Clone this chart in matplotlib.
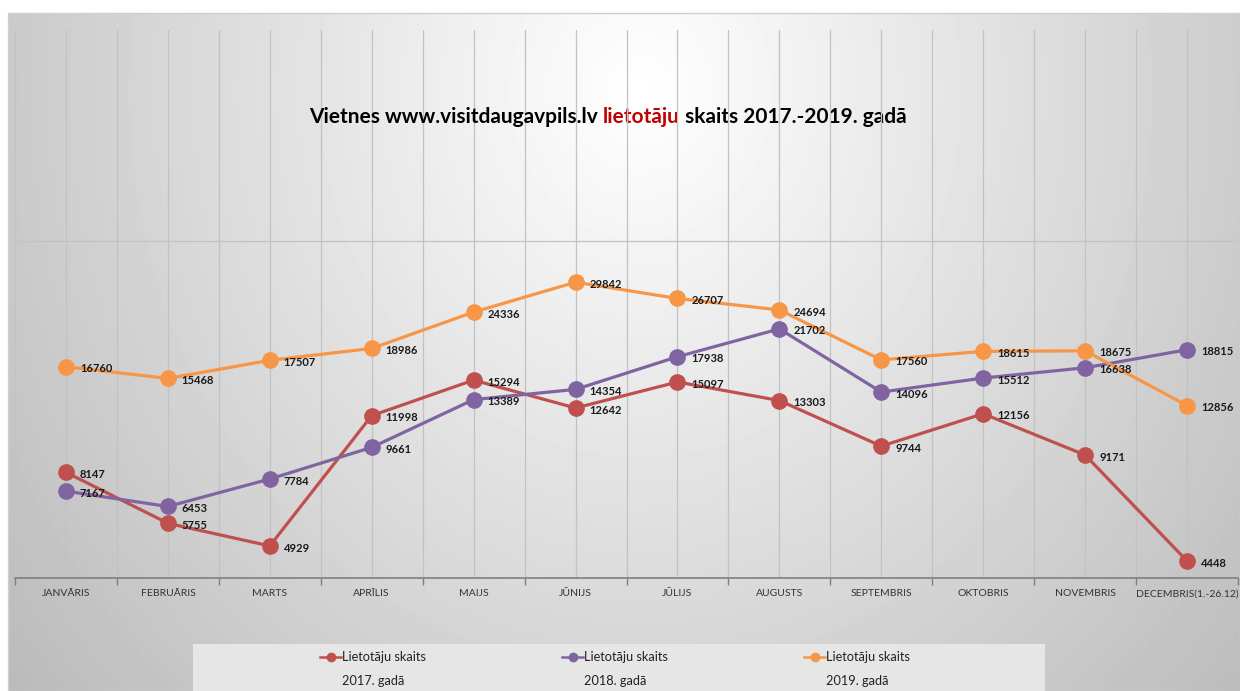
import matplotlib
matplotlib.use('Agg')
import matplotlib.pyplot as plt
import numpy as np
from matplotlib.patches import Rectangle
from matplotlib.ticker import FixedLocator, NullLocator

# dati
menesi = ['JANVĀRIS', 'FEBRUĀRIS', 'MARTS', 'APRĪLIS', 'MAIJS', 'JŪNIJS',
          'JŪLIJS', 'AUGUSTS', 'SEPTEMBRIS', 'OKTOBRIS', 'NOVEMBRIS',
          'DECEMBRIS(1.-26.12)']
skaits_2017 = [8147, 5755, 4929, 11998, 15294, 12642, 15097, 13303, 9744, 12156, 9171, 4448]
skaits_2018 = [7167, 6453, 7784, 9661, 13389, 14354, 17938, 21702, 14096, 15512, 16638, 18815]
skaits_2019 = [16760, 15468, 17507, 18986, 24336, 29842, 26707, 24694, 17560, 18615, 18675, 12856]
gadi = ['2017', '2018', '2019']
krasas = ['#c0504d', '#8064a2', '#f79646']
serijas = [skaits_2017, skaits_2018, skaits_2019]

plt.rcParams['font.family'] = ['Lato', 'DejaVu Sans']

W, H = 1240, 691
fig = plt.figure(figsize=(W / 100, H / 100), dpi=100)

# fons ar gradientu
bg = fig.add_axes([0, 0, 1, 1])
bg.set_axis_off()
bg.set_xlim(0, W)
bg.set_ylim(H, 0)
yy, xx = np.mgrid[0:H, 0:W]
r = np.sqrt(((xx - 640) / 700.0) ** 2 + ((yy - 90) / 800.0) ** 2)
img = np.clip(1 - 0.23 * r, 0, 1)
img[:13, :] = 1
img[:, :8] = 1
bg.imshow(img, extent=(0, W, H, 0), cmap='gray', vmin=0, vmax=1, aspect='auto', zorder=0)
bg.add_patch(Rectangle((8, 13), W - 8, H - 13, fill=False, edgecolor='#cfcfcf', lw=1, zorder=1))

# leģenda
bg.add_patch(Rectangle((193, 644), 852, 50, facecolor='#e6e6e6', edgecolor='none', zorder=1))
for i, (g, c) in enumerate(zip(gadi, krasas)):
    x0 = 320 + i * 242
    bg.plot([x0, x0 + 21], [657, 657], color=c, lw=1.8, zorder=2)
    bg.plot([x0 + 10.5], [657], marker='o', color=c, markersize=6, zorder=3)
    bg.text(x0 + 22, 657, 'Lietotāju skaits', fontsize=9.2, ha='left', va='center',
            color='#222222', zorder=3)
    bg.text(x0 + 22, 681, g + '. gadā', fontsize=9.2, ha='left', va='center',
            color='#222222', zorder=3)

# galvenais grafiks
ax = fig.add_axes([15 / W, 113 / H, 1223 / W, 548 / H])
ax.set_facecolor('none')
x = np.arange(len(menesi))
for vals, c in zip(serijas, krasas):
    ax.plot(x, vals, color=c, lw=2.3, marker='o', markersize=11, zorder=3)
    for xi, v in zip(x, vals):
        ax.annotate(str(v), (xi, v), xytext=(10, -1.5), textcoords='offset points',
                    ha='left', va='center', fontsize=8, fontweight='bold',
                    color='#1a1a1a', zorder=4)

ax.set_yscale('log')
ax.set_ylim(3960, 167000)
ax.yaxis.set_major_locator(FixedLocator([39600]))
ax.yaxis.set_minor_locator(NullLocator())
ax.tick_params(axis='y', which='both', length=0, labelleft=False)
ax.set_xlim(-0.5, len(menesi) - 0.5)
ax.set_xticks(x)
ax.set_xticklabels(menesi)
ax.set_xticks(np.arange(-0.5, len(menesi), 1), minor=True)
ax.tick_params(axis='x', which='major', length=0, pad=8, labelsize=7.5, labelcolor='#333333')
ax.tick_params(axis='x', which='minor', length=5, width=1, color='#7f7f7f', direction='out')
ax.grid(axis='x', which='both', color='#c2c2c2', lw=0.9)
ax.grid(axis='y', which='major', color='#c2c2c2', lw=0.9)
ax.set_axisbelow(True)
for s in ['top', 'left', 'right']:
    ax.spines[s].set_visible(False)
ax.spines['bottom'].set_color('#7f7f7f')
ax.spines['bottom'].set_linewidth(1.2)

# virsraksts ar sarkano vārdu
t1 = fig.text(0.25, 1 - 127 / H, 'Vietnes www.visitdaugavpils.lv ', fontsize=15,
              fontweight='bold', color='black', ha='left', va='bottom')
t2 = bg.annotate('lietotāju', xy=(1, 0), xycoords=t1, fontsize=15, fontweight='bold',
                 color='#c00000', ha='left', va='bottom')
t3 = bg.annotate(' skaits 2017.-2019. gadā', xy=(1, 0), xycoords=t2, fontsize=15,
                 fontweight='bold', color='black', ha='left', va='bottom')
fig.canvas.draw()
rend = fig.canvas.get_renderer()
left = t1.get_window_extent(rend).x0
right = t3.get_window_extent(rend).x1
centre = 608
t1.set_x(t1.get_position()[0] + (centre - (left + right) / 2) / W)

fig.savefig('out.png', dpi=100)
